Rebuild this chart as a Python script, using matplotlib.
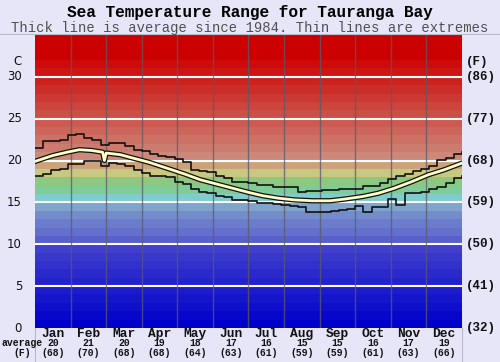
import numpy as np
import matplotlib
matplotlib.use("Agg")
import matplotlib.pyplot as plt
import matplotlib.transforms as mtransforms

# ---------------- data ----------------
months = ["Jan", "Feb", "Mar", "Apr", "May", "Jun", "Jul", "Aug", "Sep", "Oct", "Nov", "Dec"]
month_avg_c = [20, 21, 20, 19, 18, 17, 16, 15, 15, 16, 17, 19]
month_avg_f = [68, 70, 68, 68, 64, 63, 61, 59, 59, 61, 63, 66]

c_ticks = [0, 5, 10, 15, 20, 25, 30]
f_labels = ["(32)", "(41)", "(50)", "(59)", "(68)", "(77)", "(86)"]

# average line (x in months from Jan 1)
avg_x = [0, 0.5, 0.9, 1.25, 1.6, 1.9, 1.95, 2.0, 2.4, 2.75, 3.2, 3.7, 4.2, 4.65, 5.1,
         5.55, 6.0, 6.4, 6.85, 7.3, 7.8, 8.3, 8.7, 9.2, 9.65, 10.1, 10.6, 11.05, 11.5, 12]
avg_t = [19.9, 20.6, 21.0, 21.3, 21.2, 21.0, 20.0, 20.9, 20.7, 20.3, 19.8, 19.1, 18.4, 17.7, 17.2,
         16.7, 16.2, 15.8, 15.5, 15.3, 15.2, 15.2, 15.4, 15.7, 16.1, 16.7, 17.5, 18.3, 18.9, 19.7]

# weekly extremes
max_t = [21.5, 22.3, 22.3, 22.4, 23.0, 23.2, 22.7, 22.4, 21.9, 22.1, 22.1, 21.7, 21.3,
         21.1, 20.8, 20.6, 20.4, 20.2, 19.8, 18.9, 18.7, 18.6, 18.2, 17.9, 17.5, 17.4,
         17.3, 17.1, 17.1, 16.9, 16.9, 16.8, 16.2, 16.4, 16.4, 16.5, 16.5, 16.6, 16.6,
         16.6, 17.0, 17.0, 17.3, 17.8, 18.1, 18.4, 18.7, 19.0, 19.4, 20.1, 20.3, 20.8, 21.0]
min_t = [18.2, 18.4, 18.9, 19.0, 19.6, 19.6, 19.9, 20.0, 19.4, 19.7, 19.6, 19.3, 18.9,
         18.5, 18.2, 18.1, 18.0, 17.4, 17.2, 16.6, 16.2, 16.1, 15.8, 15.6, 15.3, 15.3,
         15.2, 14.9, 14.9, 14.8, 14.7, 14.6, 14.5, 13.8, 13.8, 13.8, 14.0, 14.1, 14.2,
         14.6, 13.8, 14.5, 14.5, 15.4, 14.7, 16.1, 16.1, 16.3, 16.6, 16.9, 17.3, 17.9, 18.2]

# ---------------- figure ----------------
W, H = 500, 362
fig = plt.figure(figsize=(W / 100, H / 100), dpi=100)
bg = "#e6e6f8"
fig.patch.set_facecolor(bg)

ax_l, ax_r, ax_t, ax_b = 35, 462, 35, 328
ax = fig.add_axes([ax_l / W, 1 - ax_b / H, (ax_r - ax_l) / W, (ax_b - ax_t) / H])
ax.set_xlim(0, 12)
ax.set_ylim(0, 35)
for s in ax.spines.values():
    s.set_visible(False)
ax.set_xticks([])
ax.set_yticks([])

# background colour bands (1 degree each)
anchors = {
    0: (0, 0, 204), 9: (64, 64, 204), 10: (88, 96, 204), 11: (100, 112, 204),
    12: (108, 124, 204), 13: (116, 140, 204), 14: (128, 164, 204), 15: (128, 204, 204),
    16: (128, 204, 150), 17: (140, 200, 128), 18: (200, 200, 128), 19: (204, 162, 122),
    20: (204, 136, 120), 32: (204, 0, 0), 35: (204, 0, 0),
}
ks = sorted(anchors)
cols = []
for d in range(35):
    r = np.interp(d, ks, [anchors[k][0] for k in ks])
    g = np.interp(d, ks, [anchors[k][1] for k in ks])
    b = np.interp(d, ks, [anchors[k][2] for k in ks])
    cols.append((r / 255, g / 255, b / 255))
img = np.array(cols)[::-1].reshape(35, 1, 3)
ax.imshow(img, extent=[0, 12, 0, 35], aspect="auto", interpolation="nearest", zorder=0)

for v in c_ticks[1:]:
    ax.axhline(v, color="white", lw=1.5, zorder=1)
for m in range(1, 12):
    ax.axvline(m, color="#5a5a6a", lw=1.0, alpha=0.75, zorder=1.5)

wx = np.arange(len(max_t)) * 12 / 52
ax.plot(wx, max_t, drawstyle="steps-post", color="#111111", lw=1.2, zorder=2)
ax.plot(wx, min_t, drawstyle="steps-post", color="#111111", lw=1.2, zorder=2)

ax.plot(avg_x, avg_t, color="#111111", lw=3.8, zorder=3, solid_joinstyle="round")
ax.plot(avg_x, avg_t, color="#ffffc4", lw=2.0, zorder=4, solid_joinstyle="round")

# frame extension lines
fig.add_artist(plt.Line2D([0, 1], [1 - 34 / H, 1 - 34 / H], color="#b8b8cc", lw=0.8))
fig.add_artist(plt.Line2D([ax_l / W, ax_l / W], [0, 1 - ax_b / H], color="#b8b8cc", lw=0.8))
fig.add_artist(plt.Line2D([ax_r / W, ax_r / W], [0, 1 - ax_b / H], color="#b8b8cc", lw=0.8))

mono = "Liberation Mono"

# titles
fig.text(0.5, 1 - 13 / H, "Sea Temperature Range for Tauranga Bay", ha="center", va="center",
         family=mono, weight="bold", size=11.6, color="black")
fig.text(0.5, 1 - 28 / H, "Thick line is average since 1984. Thin lines are extremes",
         ha="center", va="center", family=mono, size=10, color="#505050")

# y labels
tr_l = mtransforms.blended_transform_factory(ax.transAxes, ax.transData)
pw = ax_r - ax_l
for v in c_ticks:
    ax.text((22 - ax_l) / pw, v, str(v), transform=tr_l, ha="right", va="center",
            family="DejaVu Sans", size=8.5, color="#111111", clip_on=False)
ax.text((22 - ax_l) / pw, 31.8, "C", transform=tr_l, ha="right", va="center",
        family="DejaVu Sans", size=8.5, color="#111111", clip_on=False)
for v, lab in zip(c_ticks, f_labels):
    ax.text((466 - ax_l) / pw, v, lab, transform=tr_l, ha="left", va="center",
            family=mono, weight="bold", size=9, color="#111111", clip_on=False)
ax.text((466 - ax_l) / pw, 31.8, "(F)", transform=tr_l, ha="left", va="center",
        family=mono, weight="bold", size=9, color="#111111", clip_on=False)

# x labels
ph = ax_b - ax_t
tr_b = mtransforms.blended_transform_factory(ax.transData, ax.transAxes)
for i, (m, c, f) in enumerate(zip(months, month_avg_c, month_avg_f)):
    ax.text(i + 0.5, -(334 - ax_b) / ph, m, transform=tr_b, ha="center", va="center",
            family=mono, weight="bold", size=9.3, color="#111111", clip_on=False)
    ax.text(i + 0.5, -(343.5 - ax_b) / ph, str(c), transform=tr_b, ha="center", va="center",
            family=mono, weight="bold", size=7, color="#111111", clip_on=False)
    ax.text(i + 0.5, -(352.8 - ax_b) / ph, "(%d)" % f, transform=tr_b, ha="center", va="center",
            family=mono, weight="bold", size=7, color="#111111", clip_on=False)
fig.text(22 / W, 1 - 343.5 / H, "average", ha="center", va="center", family=mono,
         weight="bold", size=7, color="#111111")
fig.text(22 / W, 1 - 352.8 / H, "(F)", ha="center", va="center", family=mono,
         weight="bold", size=7, color="#111111")

fig.savefig("out.png", dpi=100, facecolor=bg)
